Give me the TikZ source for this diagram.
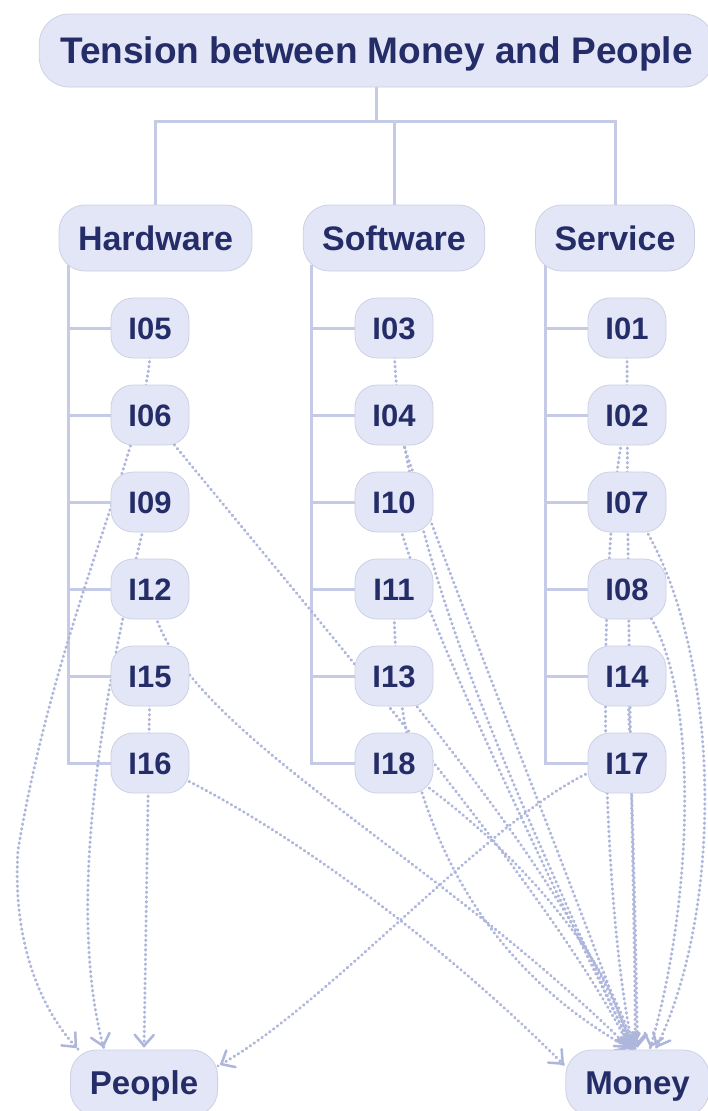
\documentclass[tikz,border=0pt]{standalone}
\usepackage{fontspec}
\setmainfont{Liberation Sans}
\usetikzlibrary{arrows.meta,calc,decorations.markings}
\definecolor{nodefill}{HTML}{E3E6F6}
\definecolor{nodeborder}{HTML}{CDD1E4}
\definecolor{txt}{HTML}{252D68}
\definecolor{treeline}{HTML}{C5CAE6}
\definecolor{relline}{HTML}{AEB6DC}
\pgfdeclarelayer{background}
\pgfsetlayers{background,main}
\tikzset{
  basebox/.style={draw=nodeborder, line width=0.8pt, fill=nodefill, text=txt, inner ysep=0pt, text depth=0pt},
  titlebox/.style={basebox, rounded corners=30pt, minimum height=73pt, inner xsep=21pt,
    font=\fontsize{37pt}{40pt}\selectfont\bfseries, text height=26.5pt},
  catbox/.style={basebox, rounded corners=26pt, minimum height=66pt, inner xsep=19pt,
    font=\fontsize{34pt}{38pt}\selectfont\bfseries, text height=24.3pt},
  itembox/.style={basebox, rounded corners=22pt, minimum height=60pt, minimum width=78pt, inner xsep=4pt,
    font=\fontsize{31pt}{34pt}\selectfont\bfseries, text height=22.2pt},
  endbox/.style={basebox, rounded corners=26pt, minimum height=66pt, inner xsep=19.5pt,
    font=\fontsize{33pt}{36pt}\selectfont\bfseries, text height=23.6pt},
  tree/.style={draw=treeline, line width=3pt},
  rel/.style={draw=relline, line width=3pt, line cap=round, dash pattern=on 0.6pt off 4.2pt,
    postaction={decorate},
    decoration={markings, mark=at position -2.5pt with
      {\pgfsetdash{}{0pt}\arrow{Straight Barb[length=11pt,width=19pt,line width=2.5pt,round]}}}},
}
\begin{document}
\begin{tikzpicture}[x=1pt,y=-1pt]
\useasboundingbox (0,0) rectangle (707,1111);
% nodes
\node[titlebox] (title) at (376.5,50.5) {Tension between Money and People};
\node[catbox] (hw) at (155.5,238) {Hardware};
\node[catbox] (sw) at (394,238) {Software};
\node[catbox] (sv) at (615,238) {Service};
\foreach \n/\x/\y in {I05/150/328, I06/150/415, I09/150/502, I12/150/589, I15/150/676, I16/150/763,
                      I03/394/328, I04/394/415, I10/394/502, I11/394/589, I13/394/676, I18/394/763,
                      I01/627/328, I02/627/415, I07/627/502, I08/627/589, I14/627/676, I17/627/763}
  \node[itembox] (\n) at (\x,\y) {\n};
\node[endbox] (People) at (144,1083) {People};
\node[endbox] (Money) at (637.5,1083) {Money};

\begin{pgfonlayer}{background}
\fill[white] (0,0) rectangle (707,1111);
% tree
\coordinate (bus) at (377,121);
\draw[tree] (title.south) -- (title.south |- bus);
\draw[tree] (bus) -| (hw.north);
\draw[tree] (bus) -| (sw.north);
\draw[tree] (bus) -| (sv.north);
\coordinate (hwl) at (68,265);
\coordinate (swl) at (311,265);
\coordinate (svl) at (545,265);
\draw[tree] (hwl) |- (I16);
\draw[tree] (swl) |- (I18);
\draw[tree] (svl) |- (I17);
\foreach \n in {I05,I06,I09,I12,I15} \draw[tree] (hwl |- \n) -- (\n);
\foreach \n in {I03,I04,I10,I11,I13} \draw[tree] (swl |- \n) -- (\n);
\foreach \n in {I01,I02,I07,I08,I14} \draw[tree] (svl |- \n) -- (\n);
% relationships to People
\draw[rel] (I05.center) .. controls (160,420) and (60,600) .. (18,850)
                        .. controls (12,940) and (40,1010) .. (People.153);
\draw[rel] (I09.center) .. controls (115,640) and (60,890) .. (People.140);
\draw[rel] (I15.center) -- (People.north);
\draw[rel] (I17.center) .. controls (540,760) and (340,1000) .. (People.13);
% relationships to Money
\draw[rel] (I16.center) .. controls (260,810) and (430,930) .. (Money.167);
\draw[rel] (I06.center) .. controls (300,600) and (560,900) .. (Money.102);
\draw[rel] (I12.center) .. controls (160,720) and (420,840) .. (Money.101);
\draw[rel] (I03.center) .. controls (392,540) and (520,800) .. (Money.100);
\draw[rel] (I04.center) .. controls (425,520) and (560,850) .. (Money.99);
\draw[rel] (I10.center) .. controls (410,590) and (540,860) .. (Money.98);
\draw[rel] (I11.center) .. controls (392,800) and (470,960) .. (Money.100);
\draw[rel] (I13.center) .. controls (440,740) and (580,900) .. (Money.97);
\draw[rel] (I18.center) .. controls (480,820) and (600,930) .. (Money.96);
\draw[rel] (I01.center) .. controls (627,700) and (636,950) .. (Money.94);
\draw[rel] (I02.center) .. controls (595,550) and (600,900) .. (Money.97);
\draw[rel] (I14.center) .. controls (633,800) and (636,950) .. (Money.90);
\draw[rel] (I07.center) .. controls (720,620) and (730,900) .. (Money.62);
\draw[rel] (I08.center) .. controls (705,650) and (695,900) .. (Money.70);
\end{pgfonlayer}
\end{tikzpicture}
\end{document}
